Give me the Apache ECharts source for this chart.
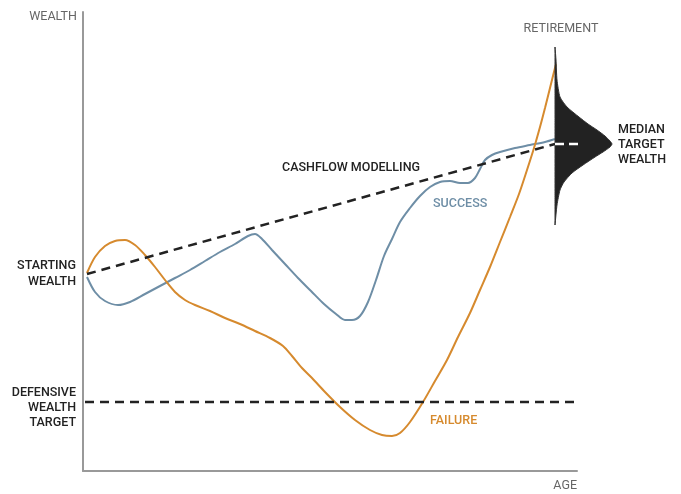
<!DOCTYPE html>
<html>
<head>
<meta charset="utf-8">
<script src="https://cdn.jsdelivr.net/npm/echarts@6/dist/echarts.min.js"></script>
<style>html,body{margin:0;padding:0;background:#fff}#c{width:681px;height:494px}</style>
</head>
<body>
<div id="c"></div>
<script>
// Axis units: age 0..494, wealth 0..459 (arbitrary units)
var successAge    = [4,12,22,35,47,62,77,92,107,122,137,152,165,172,179,189,202,215,228,241,253,262,269,277,285,293,301,309,317,327,337,347,357,367,377,385,392,397,402,409,417,432,447,462,472];
var successWealth = [194,179,170,166,169,177,185,193,201,210,219,227,235,237,232,221,207,193,180,167,157,151,151,155,169,191,215,232,249,263,275,284,289,290,288,288,293,302,311,316,319,323,326,329,332];

var failureAge    = [4,12,22,32,42,52,62,72,82,92,102,112,127,142,157,172,187,200,209,219,229,242,257,272,287,299,309,317,327,340,352,364,375,387,397,407,417,427,436,444,451,457,462,467,473];
var failureWealth = [198,214,225,230,231,226,216,204,191,179,171,166,160,153,147,140,133,125,115,103,93,79,64,51,41,36,35,38,49,69,90,111,134,158,181,204,229,254,277,301,323,344,363,383,407];

var cashflowAge    = [4,472];
var cashflowWealth = [197,327];

var defensiveAge    = [2,494];
var defensiveWealth = [69,69];

var medianAge    = [472,529];
var medianWealth = [327,327];

// retirement distribution: wealth level and density width (in age units)
var distWealth = [424,411,391,374,364,354,347,341,335,330,327,324,319,314,306,298,289,281,266,246];
var distWidth  = [0,1,2,5,12,24,33,42,50,55,57,55,48,40,28,17,9,5,2,0];
var retirementAge = 472;

var chart = echarts.init(document.getElementById('c'), null, {renderer:'canvas'});

var FONT = 'Roboto, "Open Sans", sans-serif';
function txt(x, y, s, opt) {
  opt = opt || {};
  return {
    type: 'text', x: x, y: y, z: 100,
    style: {
      text: s, fill: opt.color || '#222', font: (opt.weight || 500) + ' 12.5px ' + FONT,
      textAlign: opt.align || 'left', textVerticalAlign: 'middle', lineHeight: opt.lh || 15
    }
  };
}

var option = {
  animation: false,
  backgroundColor: '#fff',
  grid: {left: 83, top: 12, width: 494, height: 459},
  xAxis: {type: 'value', min: 0, max: 494,
    axisLine: {show: true, lineStyle: {color: '#999', width: 2}},
    axisTick: {show: false}, axisLabel: {show: false}, splitLine: {show: false}},
  yAxis: {type: 'value', min: 0, max: 459,
    axisLine: {show: true, lineStyle: {color: '#999', width: 2}},
    axisTick: {show: false}, axisLabel: {show: false}, splitLine: {show: false}},
  series: [
    {
      type: 'custom', z: 3, clip: false,
      data: distWealth.map(function(w){ return [retirementAge, w]; }),
      renderItem: function(params, api) {
        if (params.dataIndex !== 0) return null;
        var pts = [];
        for (var i = 0; i < distWealth.length; i++) pts.push(api.coord([retirementAge + distWidth[i], distWealth[i]]));
        for (var j = distWealth.length - 1; j >= 0; j--) pts.push(api.coord([retirementAge, distWealth[j]]));
        return {type: 'polygon', shape: {points: pts, smooth: 0.2}, style: {fill: '#222', stroke: '#333', lineWidth: 1}};
      }
    },
    {
      type: 'line', smooth: 0.3, symbol: 'none', z: 2,
      data: successAge.map(function(a,i){return [a, successWealth[i]];}),
      lineStyle: {color: '#6e8ea6', width: 2}
    },
    {
      type: 'line', smooth: 0.3, symbol: 'none', z: 2, clip: false,
      data: failureAge.map(function(a,i){return [a, failureWealth[i]];}),
      lineStyle: {color: '#d68a2e', width: 2}
    },
    {
      type: 'line', symbol: 'none', z: 4,
      data: cashflowAge.map(function(a,i){return [a, cashflowWealth[i]];}),
      lineStyle: {color: '#222', width: 2.5, type: [9,6]}
    },
    {
      type: 'line', symbol: 'none', z: 4,
      data: defensiveAge.map(function(a,i){return [a, defensiveWealth[i]];}),
      lineStyle: {color: '#222', width: 2.5, type: [9,6]}
    },
    {
      type: 'line', symbol: 'none', z: 5, clip: false,
      data: medianAge.map(function(a,i){return [a, medianWealth[i]];}),
      lineStyle: {color: '#fff', width: 2.5, type: [9,5]}
    }
  ],
  graphic: [
    txt(77, 17, 'WEALTH', {align: 'right', weight: 400, color: '#666'}),
    txt(561, 29, 'RETIREMENT', {align: 'center', weight: 400, color: '#666'}),
    txt(577, 486, 'AGE', {align: 'right', weight: 400, color: '#666'}),
    txt(76, 274, 'STARTING\nWEALTH', {align: 'right', lh: 16}),
    txt(76, 408, 'DEFENSIVE\nWEALTH\nTARGET', {align: 'right', lh: 15}),
    txt(618, 145, 'MEDIAN\nTARGET\nWEALTH', {align: 'left', lh: 15}),
    txt(282, 168, 'CASHFLOW MODELLING', {}),
    txt(433, 204, 'SUCCESS', {color: '#6e8ea6'}),
    txt(430, 421, 'FAILURE', {color: '#d68a2e'})
  ]
};
chart.setOption(option);
</script>
</body>
</html>
